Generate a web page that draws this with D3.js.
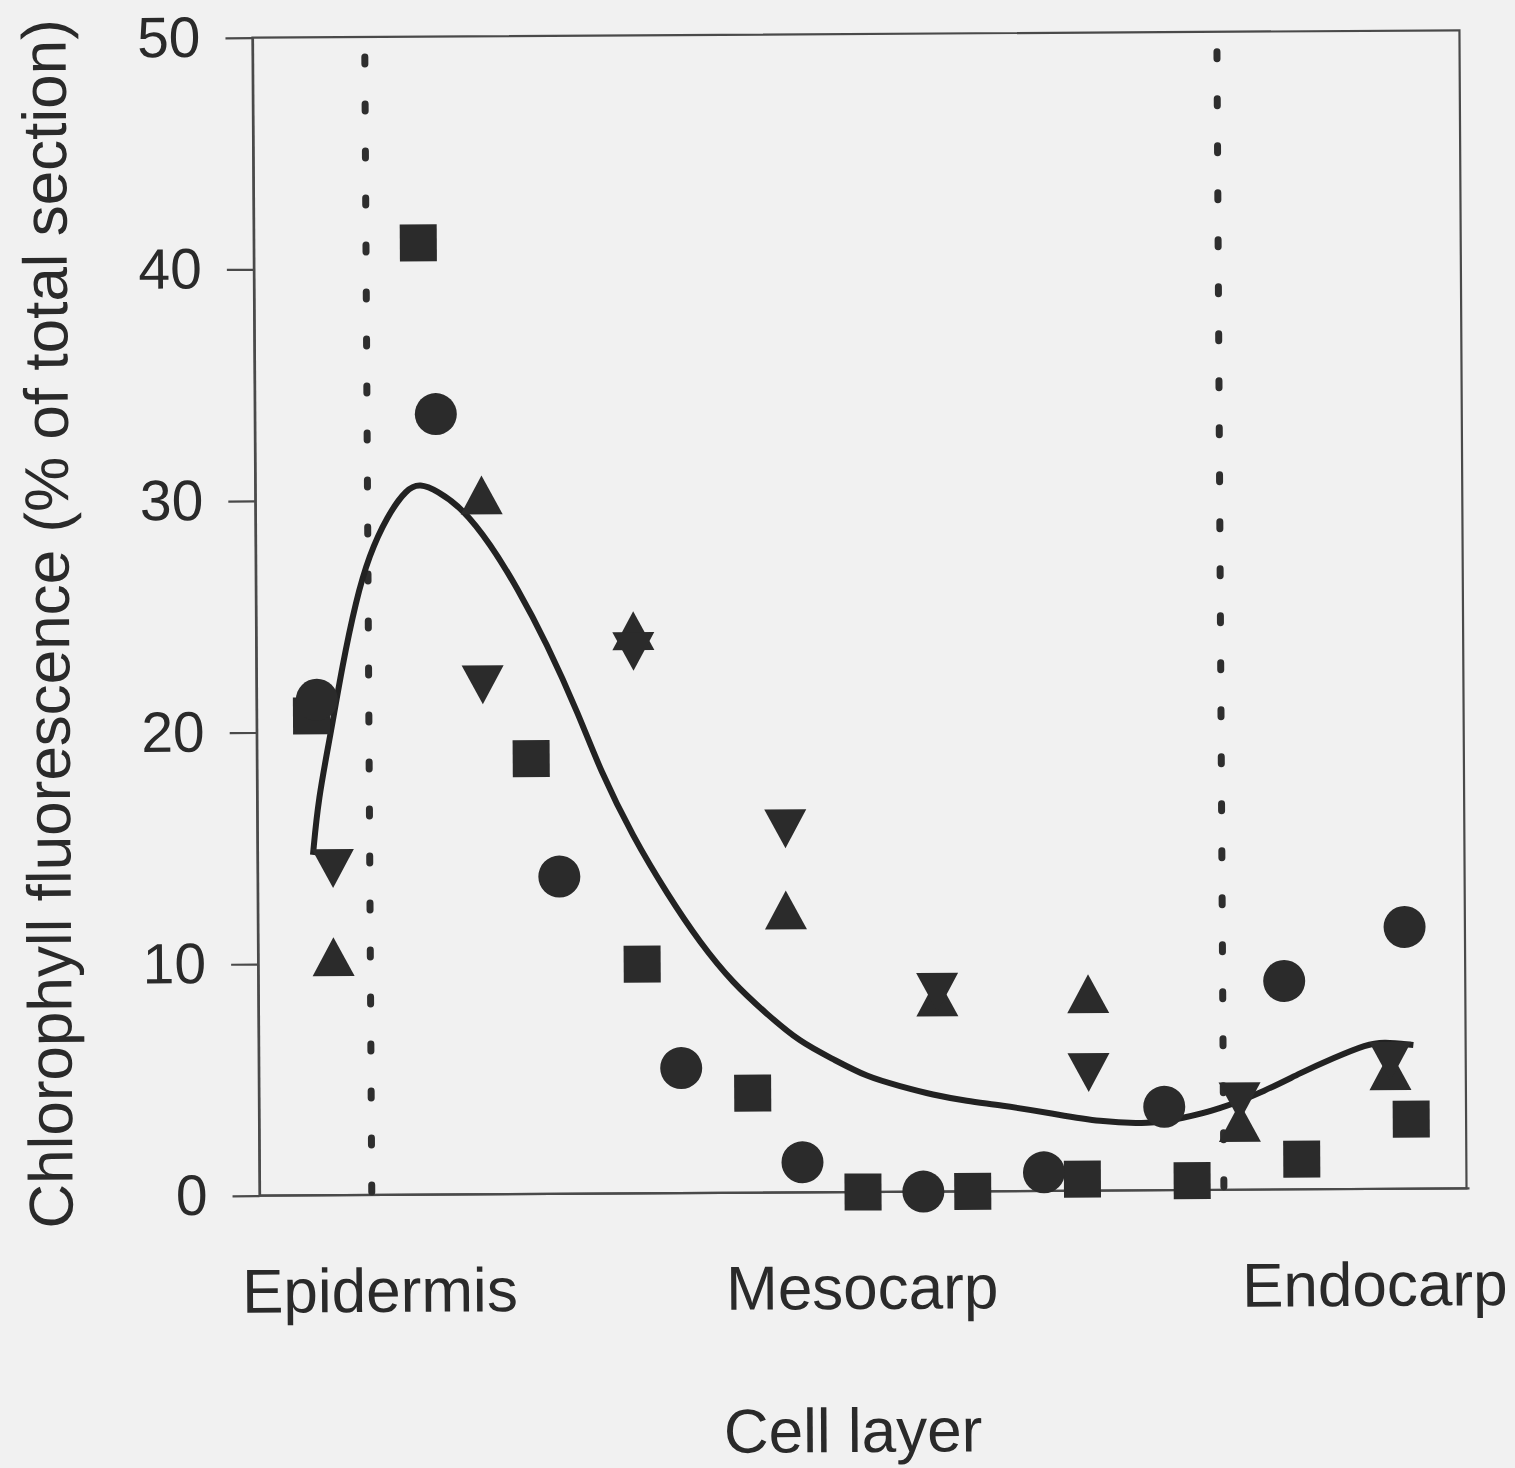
<!DOCTYPE html>
<html>
<head>
<meta charset="utf-8">
<script src="https://cdn.jsdelivr.net/npm/d3@7"></script>
<style>
  html, body { margin: 0; padding: 0; background: #f1f1f1; }
  svg { display: block; }
  text { font-family: "Liberation Sans", Arial, Helvetica, sans-serif; fill: #2a2a2a; }
</style>
</head>
<body>
<svg id="chart" width="1515" height="1468"></svg>
<script>
// ---------------- data ----------------
const squareValues       = [20.7, 41.1, 18.8, 9.9, 4.3, 0.0, 0.0, 0.5, 0.4, 1.3, 3.0];
const circleValues       = [21.4, 33.7, 13.7, 5.4, 1.3, 0.0, 0.8, 3.6, 9.0, 11.3];
const upTriangleValues   = [10.3, 30.2, 24.3, 12.2, 8.4, 8.5, 2.9, 5.1];
const downTriangleValues = [14.1, 22.0, 23.4, 15.7, 8.6, 5.1, 3.8, 5.5];

// fitted curve (relative position across section, % fluorescence)
const fitPosition = [0.046, 0.0506, 0.0612, 0.071, 0.083, 0.0939, 0.109, 0.1257, 0.1365, 0.1505,
                     0.172, 0.1942, 0.2164, 0.2405, 0.2676, 0.2842, 0.3111, 0.3395, 0.3662, 0.3933,
                     0.4214, 0.4482, 0.4758, 0.504, 0.5312, 0.5583, 0.5866, 0.614, 0.6554, 0.6968,
                     0.7381, 0.7652, 0.7937, 0.8352, 0.8627, 0.8902, 0.9185, 0.9317, 0.9567];
const fitValue    = [14.7, 17.1, 19.9, 22.8, 25.7, 27.6, 29.3, 30.5, 30.7, 30.4,
                     29.6, 28.1, 26.2, 23.8, 20.6, 18.3, 15.4, 12.9, 10.8, 9.05,
                     7.7, 6.5, 5.75, 4.96, 4.56, 4.17, 3.9, 3.71, 3.36, 2.96,
                     2.86, 3.11, 3.44, 4.29, 5.02, 5.66, 6.25, 6.35, 6.2];

const yTicks = [0, 10, 20, 30, 40, 50];
const regionLabels = ["Epidermis", "Mesocarp", "Endocarp"];
const layerBoundaries = [0.093, 0.799];
const yTitle = "Chlorophyll fluorescence (% of total section)";
const xTitle = "Cell layer";

// ---------------- layout ----------------
const L = 256, R = 1463, T = 34, B = 1192;
const ink = "#2b2b2b";
const lineCol = "#4a4a4a";

const svg = d3.select("#chart");
const g = svg.append("g").attr("transform", "rotate(-0.35, 860, 615)");

const x = d3.scaleLinear().domain([0, 1]).range([L, R]);
const y = d3.scaleLinear().domain([0, 50]).range([B, T]);

// frame
g.append("rect")
  .attr("x", L).attr("y", T).attr("width", R - L).attr("height", B - T)
  .attr("fill", "none").attr("stroke", lineCol).attr("stroke-width", 2.2);

// y axis
const yAxis = d3.axisLeft(y).tickValues(yTicks).tickSize(27).tickSizeOuter(0).tickPadding(25)
  .tickFormat(d3.format("d"));
const ya = g.append("g").attr("transform", `translate(${L},0)`).call(yAxis);
ya.select(".domain").attr("stroke", lineCol).attr("stroke-width", 2.2);
ya.selectAll(".tick line").attr("stroke", lineCol).attr("stroke-width", 2.2);
ya.selectAll(".tick text")
  .attr("font-size", 57).attr("fill", "#2a2a2a")
  .attr("font-family", "'Liberation Sans', Arial, sans-serif");

// extend x-axis baseline to the right edge
g.append("line").attr("x1", L).attr("x2", R + 3).attr("y1", y(0)).attr("y2", y(0))
  .attr("stroke", lineCol).attr("stroke-width", 2.2);

// dotted layer boundaries
g.selectAll(".boundary").data(layerBoundaries).enter().append("line")
  .attr("class", "boundary")
  .attr("x1", d => x(d)).attr("x2", d => x(d))
  .attr("y1", y(0) - 3).attr("y2", y(50) + 6)
  .attr("stroke", "#2e2e2e").attr("stroke-width", 7)
  .attr("stroke-linecap", "round")
  .attr("stroke-dasharray", "7 40");

// fitted curve
const fitData = fitPosition.map((p, i) => [p, fitValue[i]]);
g.append("path").datum(fitData)
  .attr("d", d3.line().x(d => x(d[0])).y(d => y(d[1])).curve(d3.curveBasis))
  .attr("fill", "none").attr("stroke", "#222").attr("stroke-width", 6)
  .attr("stroke-linejoin", "round");

// marker shapes
const squareType = { draw(ctx, size) { const s = Math.sqrt(size) / 2; ctx.rect(-s, -s, 2 * s, 2 * s); } };
const triUpType = { draw(ctx, size) { const w = Math.sqrt(size) / 2, h = w * 0.925;
  ctx.moveTo(0, -h); ctx.lineTo(w, h); ctx.lineTo(-w, h); ctx.closePath(); } };
const triDownType = { draw(ctx, size) { const w = Math.sqrt(size) / 2, h = w * 0.925;
  ctx.moveTo(0, h); ctx.lineTo(w, -h); ctx.lineTo(-w, -h); ctx.closePath(); } };

const series = [
  { values: squareValues, type: squareType, size: 37 * 37 },
  { values: circleValues, type: d3.symbolCircle, size: Math.PI * 21 * 21 },
  { values: upTriangleValues, type: triUpType, size: 42 * 42 },
  { values: downTriangleValues, type: triDownType, size: 42 * 42 }
];

series.forEach(s => {
  const band = d3.scaleBand().domain(d3.range(s.values.length)).range([0, 1]);
  const sym = d3.symbol().type(s.type).size(s.size);
  g.append("g").selectAll("path").data(s.values).enter().append("path")
    .attr("d", sym)
    .attr("transform", (d, i) => `translate(${x(band(i) + band.bandwidth() / 2)},${y(d)})`)
    .attr("fill", ink);
});

// region labels under the axis
const labelX = [238, 722, 1238];
g.selectAll(".region").data(regionLabels).enter().append("text")
  .attr("class", "region")
  .attr("x", (d, i) => labelX[i]).attr("y", 1309)
  .attr("font-size", 62).text(d => d);

// axis titles
g.append("text").attr("x", 848).attr("y", 1452).attr("text-anchor", "middle")
  .attr("font-size", 62).text(xTitle);
g.append("text").attr("transform", "translate(69,619) rotate(-90)")
  .attr("text-anchor", "middle").attr("font-size", 62).text(yTitle);
</script>
</body>
</html>
